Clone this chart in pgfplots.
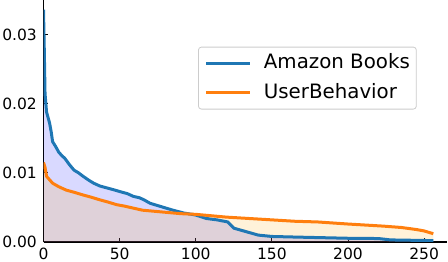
\documentclass[border=0pt]{standalone}
\usepackage{fontspec}
\setmainfont{DejaVu Sans}
\usepackage{pgfplots}
\pgfplotsset{compat=1.18}
\definecolor{tabblue}{HTML}{1F77B4}
\definecolor{taborange}{HTML}{FF7F0E}
\definecolor{fillorange}{RGB}{255,165,0}
\begin{document}
\begin{tikzpicture}
\begin{axis}[
  at={(0,0)}, anchor=south west,
  scale only axis, width=403.5bp, height=242bp,
  xmin=0, xmax=265, ymin=0, ymax=0.035,
  axis x line=bottom, axis y line=left,
  axis line style={-, line width=1.1bp, black},
  tick align=inside,
  major tick length=4bp,
  every tick/.style={black, line width=0.9bp},
  xtick={0,50,100,150,200,250},
  ytick={0,0.01,0.02,0.03},
  scaled y ticks=false,
  yticklabel style={/pgf/number format/fixed, /pgf/number format/fixed zerofill, /pgf/number format/precision=2, inner sep=0pt, xshift=-6.5bp},
  xticklabel style={inner sep=0pt, yshift=-5.8bp},
  /pgf/number format/assume math mode=true,
  tick label style={font=\fontsize{15.5bp}{17bp}\selectfont},
  legend style={at={(0.925,0.807)}, anchor=north east, draw=black!20, rounded corners=3bp, line width=0.8bp, fill=white, fill opacity=0.8, text opacity=1, font=\fontsize{19.8bp}{24bp}\selectfont, inner xsep=6.5bp, inner ysep=6bp, row sep=9bp, column sep=0bp, nodes={inner xsep=0bp, inner ysep=1bp, text height=14.5bp, text depth=4bp}},
  legend cell align=left,
  legend image code/.code={\draw[#1, line width=3bp] (0bp,0bp) -- (44bp,0bp); \path (56bp,0bp);},
  clip=true,
]
\addplot[draw=none, fill=blue, fill opacity=0.15, forget plot] coordinates {
(0,0.0336)(0.5,0.028)(1,0.0215)(2,0.0188)(3,0.0180)(4,0.0172)(5,0.0160)(6,0.0145)(8,0.0138)(10,0.0130)(12,0.0125)(14,0.0121)(17,0.0112)(20,0.0104)(23,0.0100)(26,0.0095)(30,0.0089)(33,0.0085)(37,0.0081)(42,0.0078)(47,0.0075)(50,0.0073)(55,0.0070)(59,0.0066)(63,0.0064)(66,0.0061)(70,0.0056)(76,0.0052)(85,0.0046)(92,0.0042)(100,0.0039)(107,0.0034)(114,0.0032)(121,0.0029)(125,0.0020)(133,0.0015)(141,0.0010)(150,0.0008)(168,0.0007)(200,0.00054)(220,0.0005)(228,0.0003)(256,0.0002)
} \closedcycle;
\addplot[draw=none, fill=fillorange, fill opacity=0.15, forget plot] coordinates {
(0,0.0115)(1,0.0108)(2,0.0095)(4,0.0090)(6,0.0085)(10,0.0080)(15,0.0075)(20,0.0072)(26,0.0068)(31,0.0065)(37,0.0061)(42,0.0058)(48,0.0054)(53,0.0052)(59,0.0049)(65,0.0046)(70,0.0045)(80,0.0043)(90,0.0041)(100,0.0040)(110,0.0038)(120,0.0036)(135,0.0034)(150,0.0032)(165,0.0030)(180,0.0029)(200,0.0026)(223,0.0023)(235,0.0021)(245,0.0018)(250,0.0016)(256,0.0012)
} \closedcycle;
\addplot[tabblue, line width=3bp, line join=round] coordinates {
(0,0.0336)(0.5,0.028)(1,0.0215)(2,0.0188)(3,0.0180)(4,0.0172)(5,0.0160)(6,0.0145)(8,0.0138)(10,0.0130)(12,0.0125)(14,0.0121)(17,0.0112)(20,0.0104)(23,0.0100)(26,0.0095)(30,0.0089)(33,0.0085)(37,0.0081)(42,0.0078)(47,0.0075)(50,0.0073)(55,0.0070)(59,0.0066)(63,0.0064)(66,0.0061)(70,0.0056)(76,0.0052)(85,0.0046)(92,0.0042)(100,0.0039)(107,0.0034)(114,0.0032)(121,0.0029)(125,0.0020)(133,0.0015)(141,0.0010)(150,0.0008)(168,0.0007)(200,0.00054)(220,0.0005)(228,0.0003)(256,0.0002)
};
\addlegendentry{Amazon Books}
\addplot[taborange, line width=3bp, line join=round] coordinates {
(0,0.0115)(1,0.0108)(2,0.0095)(4,0.0090)(6,0.0085)(10,0.0080)(15,0.0075)(20,0.0072)(26,0.0068)(31,0.0065)(37,0.0061)(42,0.0058)(48,0.0054)(53,0.0052)(59,0.0049)(65,0.0046)(70,0.0045)(80,0.0043)(90,0.0041)(100,0.0040)(110,0.0038)(120,0.0036)(135,0.0034)(150,0.0032)(165,0.0030)(180,0.0029)(200,0.0026)(223,0.0023)(235,0.0021)(245,0.0018)(250,0.0016)(256,0.0012)
};
\addlegendentry{UserBehavior}
\end{axis}
\pgfresetboundingbox
\useasboundingbox (-43.5bp,-20bp) rectangle (404.5bp,242bp);
\end{tikzpicture}
\end{document}
